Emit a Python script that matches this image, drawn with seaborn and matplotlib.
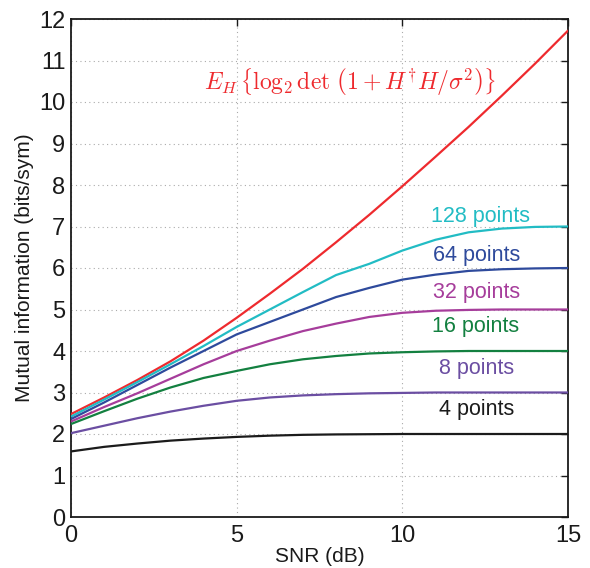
import numpy as np
import pandas as pd
import matplotlib
matplotlib.use("Agg")
import matplotlib.pyplot as plt
import seaborn as sns

snr = list(range(0, 16))
cap_gaussian = [2.48, 2.88, 3.30, 3.75, 4.25, 4.80, 5.38, 5.98, 6.62, 7.28, 7.97, 8.68, 9.40, 10.15, 10.92, 11.72]
mi_128 = [2.42, 2.83, 3.25, 3.68, 4.12, 4.58, 5.00, 5.42, 5.83, 6.10, 6.42, 6.68, 6.86, 6.95, 6.99, 7.00]
mi_64 = [2.36, 2.76, 3.18, 3.60, 4.00, 4.40, 4.70, 5.00, 5.30, 5.52, 5.72, 5.84, 5.93, 5.97, 5.99, 6.00]
mi_32 = [2.30, 2.65, 2.98, 3.33, 3.68, 4.00, 4.25, 4.48, 4.66, 4.82, 4.92, 4.97, 4.99, 5.00, 5.00, 5.00]
mi_16 = [2.24, 2.55, 2.85, 3.12, 3.35, 3.52, 3.68, 3.80, 3.88, 3.94, 3.97, 3.99, 4.00, 4.00, 4.00, 4.00]
mi_8 = [2.02, 2.20, 2.38, 2.54, 2.68, 2.80, 2.88, 2.93, 2.96, 2.98, 2.99, 3.00, 3.00, 3.00, 3.00, 3.00]
mi_4 = [1.58, 1.69, 1.77, 1.84, 1.89, 1.93, 1.96, 1.98, 1.99, 1.995, 2.00, 2.00, 2.00, 2.00, 2.00, 2.00]

series_names = ["gauss", "128 points", "64 points", "32 points", "16 points", "8 points", "4 points"]
series_vals = [cap_gaussian, mi_128, mi_64, mi_32, mi_16, mi_8, mi_4]
colors = ["#ee2a2e", "#22bcc4", "#2e4a9c", "#a63d9b", "#138040", "#6b4ea2", "#1b1b1b"]

xticks = [0, 5, 10, 15]
yticks = list(range(0, 13))

rows = []
for name, vals in zip(series_names, series_vals):
    for x, y in zip(snr, vals):
        rows.append({"SNR": x, "MI": y, "series": name})
df = pd.DataFrame(rows)

sns.set_style("white")
plt.rcParams["font.family"] = ["Liberation Sans", "DejaVu Sans"]
plt.rcParams["mathtext.fontset"] = "cm"

fig = plt.figure(figsize=(5.9, 5.68), dpi=100)
ax = fig.add_axes([71/590, 1 - 517/568, (568 - 71)/590, (517 - 19)/568])

sns.lineplot(data=df, x="SNR", y="MI", hue="series", hue_order=series_names,
             palette=dict(zip(series_names, colors)), linewidth=1.6,
             legend=False, ax=ax, zorder=3)

ax.set_xlim(0, 15)
ax.set_ylim(0, 12)
ax.set_xticks(xticks)
ax.set_yticks(yticks)
ax.grid(True, linestyle=(0, (1, 3)), color="#aaaaaa", linewidth=0.8)
ax.tick_params(direction="in", length=5, width=1, top=True, right=True,
               labelsize=17, pad=4, colors="#1a1a1a")
ax.tick_params(axis="x", pad=6)
for s in ax.spines.values():
    s.set_visible(True)
    s.set_color("#1a1a1a")
    s.set_linewidth(1.3)

ax.set_xlabel("SNR (dB)", fontsize=15, labelpad=0, color="#1a1a1a")
ax.set_ylabel("Mutual information (bits/sym)", fontsize=15, labelpad=4, color="#1a1a1a")

label_pos = {"128 points": (12.35, 7.25), "64 points": (12.25, 6.29),
             "32 points": (12.25, 5.42), "16 points": (12.2, 4.58),
             "8 points": (12.25, 3.59), "4 points": (12.25, 2.58)}
for name, col in zip(series_names, colors):
    if name in label_pos:
        x, y = label_pos[name]
        ax.text(x, y, name, color=col, fontsize=15.5, ha="center", va="center")

ax.text(8.42, 10.48, r"$E_H\,\left\{\log_2\det\,\left(1+H^{\dagger}H/\sigma^2\right)\right\}$",
        color=colors[0], fontsize=17, ha="center", va="center")

fig.savefig("out.png", dpi=100)
